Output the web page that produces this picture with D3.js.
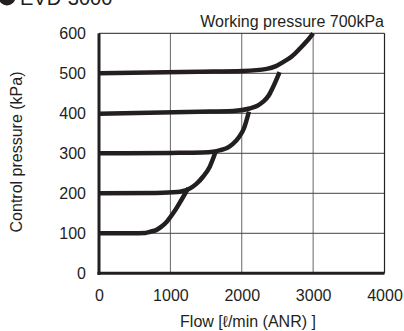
<!DOCTYPE html>
<html><head><meta charset="utf-8">
<script src="https://cdn.jsdelivr.net/npm/d3@7"></script>
<style>body{margin:0;background:#fff}svg{display:block;font-family:"Liberation Sans",Arial,sans-serif}</style>
</head><body>
<script>
const title = "EVD-3000";
const note = "Working pressure 700kPa";
const xLabel = "Flow [ℓ/min (ANR) ]";
const yLabel = "Control pressure (kPa)";
const xTicks = [0, 1000, 2000, 3000, 4000];
const yTicks = [0, 100, 200, 300, 400, 500, 600];
const curve100 = [[0,100],[450,100],[650,101],[720,104],[800,108],[870,116],[950,129],[1050,153],[1150,182],[1250,213]];
const curve200 = [[0,200],[800,201],[1100,203],[1180,206],[1260,211],[1360,223],[1460,242],[1550,266],[1630,302]];
const curve300 = [[0,300],[1000,301],[1450,302],[1600,304],[1700,308],[1800,314],[1880,324],[1960,340],[2030,362],[2100,404]];
const curve400 = [[0,399],[1400,404],[1880,406],[2110,412],[2220,419],[2300,429],[2380,445],[2440,466],[2530,503]];
const curve500 = [[0,500],[1400,504],[2020,506],[2350,511],[2480,518],[2580,528],[2700,542],[2810,561],[2910,580],[3000,600]];
const curves = [curve100, curve200, curve300, curve400, curve500];

const W = 404, H = 331;
const FS = 16;
const svg = d3.select("body").append("svg").attr("width", W).attr("height", H);
const x = d3.scaleLinear().domain([0, 4000]).range([99, 384.5]);
const y = d3.scaleLinear().domain([0, 600]).range([273.3, 33.3]);

// grid
svg.append("g").selectAll("line").data(xTicks.filter(d => d > 0 && d < 4000)).join("line")
  .attr("x1", d => x(d)).attr("x2", d => x(d)).attr("y1", y(0)).attr("y2", y(600))
  .attr("stroke", "#666").attr("stroke-width", 1);
svg.append("g").selectAll("line").data(yTicks.filter(d => d > 0 && d < 600)).join("line")
  .attr("x1", x(0)).attr("x2", x(4000)).attr("y1", d => y(d)).attr("y2", d => y(d))
  .attr("stroke", "#444").attr("stroke-width", 1);
// top / right border
svg.append("line").attr("x1", x(0)).attr("x2", x(4000)).attr("y1", y(600)).attr("y2", y(600)).attr("stroke", "#222").attr("stroke-width", 1);
svg.append("line").attr("x1", x(4000)).attr("x2", x(4000)).attr("y1", y(0)).attr("y2", y(600)).attr("stroke", "#222").attr("stroke-width", 1.2);

// axes
const xAxis = svg.append("g").attr("transform", `translate(0,${y(0)})`)
  .call(d3.axisBottom(x).tickValues(xTicks).tickFormat(d3.format("d")).tickSize(0).tickPadding(16));
const yAxis = svg.append("g").attr("transform", `translate(${x(0)},0)`)
  .call(d3.axisLeft(y).tickValues(yTicks).tickFormat(d3.format("d")).tickSize(0).tickPadding(13));
[xAxis, yAxis].forEach(a => {
  a.select(".domain").attr("stroke", "#231f20").attr("stroke-width", 3);
  a.selectAll("text").attr("font-size", FS).attr("fill", "#231f20").attr("font-family", "Liberation Sans, Arial, sans-serif");
});
xAxis.select(".domain").attr("d", `M${x(0)-1.5},0H${x(4000)}`);
yAxis.select(".domain").attr("d", `M0,${y(0)+1.5}V${y(600)}`);

// curves
const line = d3.line().x(d => x(d[0])).y(d => y(d[1])).curve(d3.curveMonotoneX);
svg.append("g").selectAll("path").data(curves).join("path")
  .attr("d", line).attr("fill", "none").attr("stroke", "#231f20").attr("stroke-width", 4.5);

// texts
svg.append("text").attr("x", 384).attr("y", 27).attr("text-anchor", "end")
  .attr("font-size", FS).attr("fill", "#231f20").text(note);
svg.append("text").attr("x", 248).attr("y", 327).attr("text-anchor", "middle")
  .attr("font-size", FS).attr("fill", "#231f20").text(xLabel);
svg.append("text").attr("transform", "translate(22,152) rotate(-90)").attr("text-anchor", "middle")
  .attr("font-size", FS).attr("fill", "#231f20").text(yLabel);
svg.append("circle").attr("cx", 7).attr("cy", -3).attr("r", 8.5).attr("fill", "#231f20");
svg.append("text").attr("x", 20).attr("y", 5).attr("font-size", 20).attr("fill", "#231f20").text(title);
</script>
</body></html>
